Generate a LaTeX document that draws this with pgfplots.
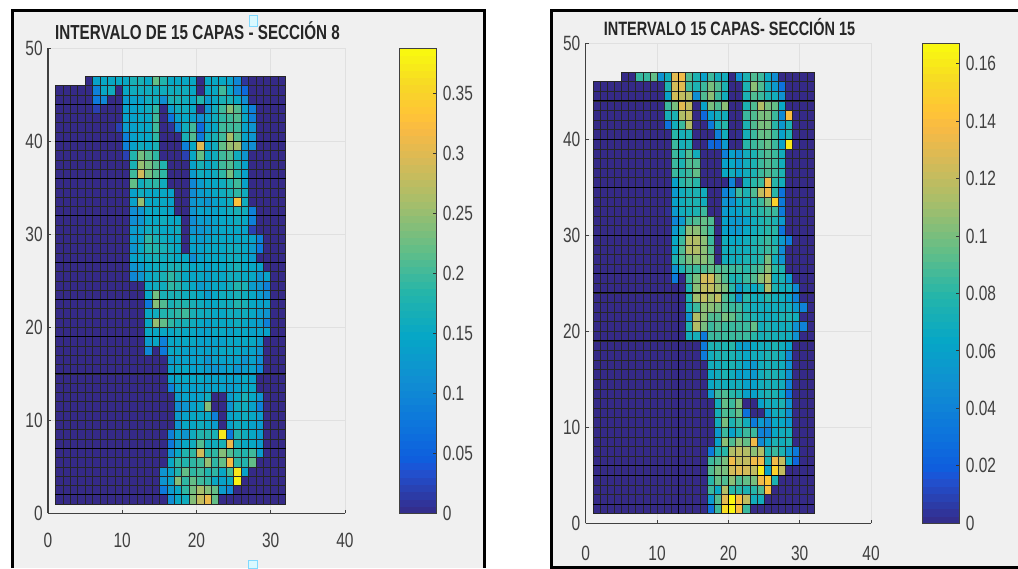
\documentclass[border=0pt]{standalone}
\usepackage{fontspec}
\setmainfont[FakeStretch=0.75]{Liberation Sans}
\usepackage{pgfplots}
\pgfplotsset{compat=1.18}
\definecolor{panel}{HTML}{F0F0F0}
\definecolor{txt}{HTML}{404040}
\newcount\xc \newcount\yc
\def\coords{}
\def\addpt#1{\xdef\coords{\coords(\the\xc,\the\yc) [#1] }\global\advance\xc by 1 }
\def\R#1#2{\global\advance\yc by -1 \global\xc=1
  \loop\ifnum\xc<#1 \addpt{0}\repeat
  \foreach \v in {#2}{\addpt{\v}}
  \loop\ifnum\xc<33 \addpt{0}\repeat}
\def\Last{\global\advance\yc by -1 \global\xc=1 \loop\ifnum\xc<33 \addpt{0}\repeat}
\def\Top#1{\gdef\coords{}\global\yc=47 \global\xc=5 \foreach \v in {#1}{\addpt{\v}}\addpt{0}%
  \global\yc=46 \global\xc=5 \foreach \v in {#1}{\addpt{\v}}\addpt{0}}
% left panel, cell values in 0.01
\Top{0,14,15,15,15,15,17,17,15,22,18,15,15,15,15,0,15,15,15,14,10,1,0,0,0,0,0}
\global\let\LT\coords
\gdef\coords{}\global\yc=47
\R{6}{9,15,16,0,15,16,16,16,16,16,16,16,16,15,0,15,15,20,15,10,6}
\R{6}{8,10,0,0,13,14,14,16,16,11,17,17,16,15,18,13,15,17,17,15,11}
\R{6}{2,0,0,0,14,14,15,16,19,0,13,16,16,15,0,12,16,20,24,21,14,9}
\R{10}{14,14,15,15,20,0,7,14,15,14,11,14,16,19,20,21,15,9}
\R{9}{2,13,14,15,15,20,0,1,10,16,20,6,14,15,20,20,20,14,12}
\R{10}{9,14,15,15,19,0,0,0,17,21,8,16,17,20,26,21,14,12}
\R{10}{9,14,16,15,17,0,0,0,9,15,30,14,16,22,25,26,12,11}
\R{10}{2,18,23,21,19,0,0,0,2,15,22,15,16,20,21,16,12}
\R{11}{17,25,23,21,18,0,0,0,14,17,15,16,20,21,18,14}
\R{11}{20,29,23,21,19,0,0,0,13,16,15,16,19,23,18,14}
\R{11}{22,16,18,19,16,0,0,0,10,13,15,15,16,18,20,14}
\R{11}{14,16,15,15,15,14,0,0,11,13,14,15,16,17,19,16}
\R{11}{14,25,15,15,15,14,0,0,12,13,12,14,15,16,33,16}
\R{11}{11,12,15,15,15,14,0,0,12,14,14,14,15,16,17,16,9}
\R{11}{11,12,15,15,16,15,15,0,11,13,13,14,15,15,16,15,9}
\R{11}{13,14,16,16,15,15,16,0,12,12,13,14,15,15,15,14,2}
\R{11}{13,14,19,17,16,15,15,0,14,13,14,15,15,15,15,15,14,9}
\R{11}{12,15,18,18,17,16,15,0,14,14,15,15,15,16,16,15,13,8}
\R{11}{14,15,16,17,16,16,15,15,11,14,15,15,15,16,16,15,13,0}
\R{11}{12,13,15,16,16,17,17,16,15,15,14,15,15,16,17,15,15,14}
\R{11}{10,12,15,16,17,19,17,15,15,15,14,15,15,16,16,15,15,12,14}
\R{13}{15,16,16,19,18,16,15,13,14,15,15,16,18,17,13,12,9}
\R{13}{15,23,17,17,17,16,16,15,13,15,16,16,17,16,15,13,11}
\R{13}{8,24,21,17,18,18,17,16,15,15,16,16,18,17,15,14,14}
\R{13}{15,16,18,18,19,20,17,16,16,15,15,16,16,16,15,13,12}
\R{13}{15,25,22,19,17,17,16,15,14,15,15,15,16,15,14,13,9}
\R{13}{15,15,15,15,16,15,15,14,14,15,15,14,15,15,14,14,14}
\R{13}{13,15,9,15,15,15,15,14,14,14,14,15,15,15,15,13}
\R{13}{10,0,8,15,15,14,14,14,14,14,15,15,15,14,14,12}
\R{16}{13,14,14,14,14,12,14,14,14,14,12,14,11}
\R{16}{14,15,15,14,14,13,12,13,14,12,13,14,10}
\R{16}{14,15,15,15,15,14,14,14,14,14,15,14}
\R{16}{9,14,14,14,14,14,14,14,13,14,15,15}
\R{17}{13,14,14,14,16,0,0,13,15,17,15,12}
\R{17}{11,12,14,15,24,0,0,12,16,16,14,9}
\R{17}{13,14,15,15,15,9,0,14,15,16,15,13}
\R{17}{12,15,15,16,15,13,0,14,16,15,14,13}
\R{16}{9,14,12,16,18,18,17,37,8,18,16,15,13}
\R{16}{8,13,15,16,21,16,16,17,31,17,15,15,13}
\R{16}{11,15,18,19,29,19,19,24,21,19,18,20,13}
\R{16}{15,19,18,19,20,25,19,22,32,19,18,22}
\R{15}{12,14,18,22,19,20,18,19,15,20,37,14}
\R{15}{12,14,24,19,22,20,19,15,14,15,38}
\R{15}{8,13,15,19,23,26,24,22,13,10}
\R{16}{11,15,16,24,28,31,22}
\Last
\global\let\LM\coords
% right panel, cell values in 0.001
\Top{0,0,84,84,95,50,70,130,135,90,75,60,85,70,70,0,50,75,90,85,65,48,0,0,0,0,0}
\global\let\RT\coords
\gdef\coords{}\global\yc=47
\R{11}{75,125,130,85,75,85,100,90,75,0,0,75,105,90,70,55,30}
\R{11}{60,125,120,115,48,90,105,85,70,0,0,75,90,85,75,70,50}
\R{11}{85,100,130,120,0,60,100,90,105,0,0,75,90,115,100,95,65}
\R{11}{72,75,115,120,0,25,60,70,70,0,0,85,90,100,100,85,45,140}
\R{11}{30,70,85,115,0,0,35,72,80,0,0,75,90,100,100,80,55,75}
\R{12}{80,72,75,0,0,0,38,70,0,2,72,85,95,95,85,60,75}
\R{12}{85,72,75,0,0,25,22,55,0,0,80,85,90,95,85,60,160}
\R{12}{85,75,90,70,0,0,0,38,60,50,70,75,85,90,85,70}
\R{12}{85,75,90,90,0,0,0,60,65,55,70,75,85,90,85,70}
\R{12}{85,80,85,95,0,0,0,65,70,60,70,75,85,90,85,75}
\R{12}{60,80,85,80,0,0,0,0,40,2,70,80,85,135,80,70}
\R{12}{55,70,75,75,70,0,0,40,55,85,75,90,120,135,80,30}
\R{12}{60,70,75,75,70,0,0,50,50,65,70,75,85,100,150,35}
\R{11}{2,55,70,72,75,85,0,0,55,60,60,70,75,80,85,85,35}
\R{12}{42,55,85,90,95,90,0,60,55,55,60,70,75,80,75,55}
\R{12}{55,75,105,105,95,85,0,60,55,55,65,70,75,80,80,30}
\R{12}{65,85,115,115,105,85,0,70,65,65,70,75,80,85,75,55,35}
\R{12}{65,90,115,115,105,90,0,70,70,70,70,75,80,85,80,45}
\R{12}{75,90,100,105,105,95,0,70,70,70,75,75,80,100,70,50}
\R{12}{50,75,85,85,90,95,90,90,85,85,80,85,90,105,80,75}
\R{12}{35,0,85,100,125,125,105,90,75,75,85,90,105,115,70,75,55}
\R{14}{75,105,120,120,110,100,80,55,72,65,75,115,75,70,70,45}
\R{14}{75,110,120,110,120,90,80,50,80,70,70,80,70,70,60,40}
\R{14}{70,85,105,105,100,90,85,85,75,70,70,70,70,70,70,55,40}
\R{14}{50,115,105,90,90,100,95,85,80,75,70,70,70,75,75,70}
\R{14}{75,115,100,85,90,85,85,85,85,95,70,75,70,70,70,50,40}
\R{14}{70,72,35,85,85,85,85,85,85,80,72,75,72,72,70,50}
\R{16}{35,75,75,75,80,60,55,65,70,70,75,70,60}
\R{16}{35,70,75,75,75,70,65,70,70,75,75,70,45}
\R{17}{70,70,72,75,70,60,55,70,72,72,70,50}
\R{17}{65,70,75,70,60,60,55,70,75,75,70,50}
\R{17}{65,70,70,70,70,60,60,70,72,72,70,40}
\R{17}{55,85,90,80,75,60,60,70,75,75,65,30}
\R{18}{70,95,85,100,0,0,60,70,70,75,50}
\R{18}{72,90,85,95,30,0,0,55,70,70,50}
\R{18}{70,100,75,85,70,35,55,45,65,65,55}
\R{18}{55,85,60,75,85,85,40,40,65,70,70}
\R{18}{60,105,90,105,95,135,45,60,75,70,75}
\R{17}{35,75,80,115,120,115,105,115,75,85,75,55,35}
\R{17}{85,90,100,135,120,120,135,135,75,135,120,65,25}
\R{17}{90,100,100,125,130,125,120,160,60,150,120}
\R{17}{80,95,90,105,90,95,100,135,145,75}
\R{17}{85,65,115,80,80,75,80,90,140}
\R{17}{55,90,130,165,140,120,70,70}
\R{17}{30,85,155,165,140,85}
\Last
\global\let\RM\coords
\def\cellsA#1{\addplot[surf,shader=flat corner,draw=black!85,line width=0.45pt,point meta=explicit,mesh/cols=32] coordinates {#1};}
\def\cellsB#1{\addplot[surf,shader=flat corner,draw=black!85,line width=0.45pt,point meta=explicit,mesh/cols=28] coordinates {#1};}
\pgfplotsset{
  colormap={parulam}{rgb(0pt)=(.2081,.1663,.5292) rgb(6pt)=(.1253,.3242,.8303) rgb(7pt)=(.0591,.3598,.8683)
   rgb(12pt)=(.0498,.4586,.8641) rgb(18pt)=(.0641,.5570,.8240) rgb(24pt)=(.0228,.6535,.7768)
   rgb(30pt)=(.1453,.7098,.6646) rgb(36pt)=(.3953,.7459,.5244) rgb(42pt)=(.6473,.7456,.4188)
   rgb(48pt)=(.8507,.7299,.3360) rgb(52pt)=(.9739,.7314,.2666) rgb(54pt)=(.9990,.7653,.2164)
   rgb(58pt)=(.9697,.8481,.1475) rgb(63pt)=(.9763,.9831,.0538)},
  panelaxis/.style={
    anchor=south west, scale only axis, enlargelimits=false,
    xmin=0,xmax=40,ymin=0,ymax=50,
    xtick={0,10,20,30,40}, ytick={0,10,20,30,40,50},
    axis lines=left, axis line style={-,black!75,line width=0.9pt},
    tick align=inside, major tick length=2.5pt, tick style={black!75,line width=0.6pt},
    grid=major, grid style={black!12,line width=0.6pt},
    tick label style={font=\fontsize{15.5}{15.5}\selectfont,text=txt},
    /pgf/number format/assume math mode=true,
    xticklabel style={yshift=-11.5pt}, yticklabel style={xshift=-0.5pt},
  },
  cbstyle/.style={
    anchor=south west, scale only axis, width=28pt, samples=65,
    ytick pos=right, tick align=inside, major tick length=2.5pt,
    tick style={black!80,line width=0.6pt},
    axis line style={black!75,line width=0.7pt},
    yticklabel style={font=\fontsize{15.5}{15.5}\selectfont,text=txt,xshift=1pt},
  },
}
\begin{document}
\begin{tikzpicture}
\begin{scope}[x=0.75pt,y=-0.75pt]
\useasboundingbox (0,0) rectangle (1018,568);
\fill[panel] (12,10) rectangle (484,568);
\fill[panel] (551,10) rectangle (1018,567);
\draw[black,line width=2.25pt] (12.5,568) -- (12.5,10.7) -- (484,10.7) -- (484,568);
\draw[black,line width=2.25pt] (1018,567) -- (551,567) -- (551,10.5) -- (1018,10.5);
\end{scope}
\begin{axis}[panelaxis, at={(36pt,-385pt)}, width=222.75pt, height=348.75pt,
  point meta min=0, point meta max=38.8, colorbar sampled,
  colorbar style={cbstyle, at={(parent axis.south east)}, xshift=32.25pt, height=348.75pt,
    ytick={0,5,10,15,20,25,30,35},
    yticklabels={0,0.05,0.1,0.15,0.2,0.25,0.3,0.35}}]
\expandafter\cellsB\expandafter{\LT}
\expandafter\cellsA\expandafter{\LM}
\pgfplotsinvokeforeach{44,40,36,32,27,23,19,15,7,2}{\addplot[black,line width=0.7pt,forget plot] coordinates {(1,#1) (32,#1)};}
\end{axis}
\begin{axis}[panelaxis, at={(439.3pt,-392.5pt)}, width=214pt, height=360pt,
  point meta min=0, point meta max=167, colorbar sampled,
  xticklabel style={yshift=-2pt},
  colorbar style={cbstyle, at={(parent axis.south east)}, xshift=30pt, height=360pt,
    ytick={0,20,40,60,80,100,120,140,160},
    yticklabels={0,0.02,0.04,0.06,0.08,0.1,0.12,0.14,0.16}}]
\expandafter\cellsB\expandafter{\RT}
\expandafter\cellsA\expandafter{\RM}
\pgfplotsinvokeforeach{44,40,35,30,26,24,19,6,5,2}{\addplot[black,line width=0.7pt,forget plot] coordinates {(1,#1) (32,#1)};}
\pgfplotsinvokeforeach{13,20}{\addplot[black,line width=0.7pt,forget plot] coordinates {(#1,1) (#1,47)};}
\end{axis}
\begin{scope}[x=0.75pt,y=-0.75pt]
\node[font=\fontsize{15.2}{15.2}\selectfont\bfseries,text=black!85] at (197.5,31) {INTERVALO DE 15 CAPAS - SECCIÓN 8};
\node[font=\fontsize{14.5}{14.5}\selectfont\bfseries,text=black!85] at (729.5,27) {INTERVALO 15 CAPAS- SECCIÓN 15};
\filldraw[fill=blue!15!cyan!15!white,draw=blue!30!cyan!50!white,line width=0.7pt] (249,15) rectangle (257,26);
\filldraw[fill=blue!15!cyan!15!white,draw=blue!30!cyan!50!white,line width=0.7pt] (248.5,560) rectangle (257,568);
\end{scope}
\end{tikzpicture}
\end{document}
